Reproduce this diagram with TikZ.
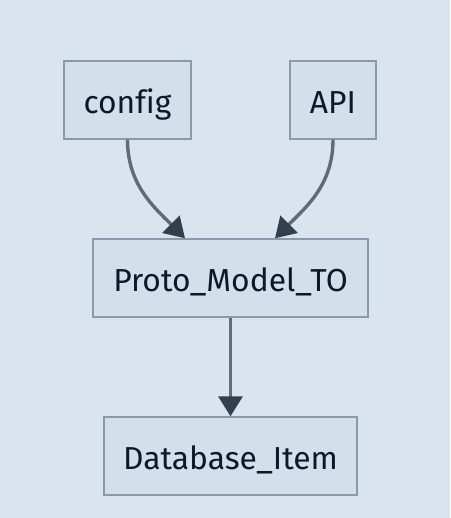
\documentclass[tikz,border=0pt]{standalone}
\usepackage{fontspec}
\setmainfont{Fira Sans}[Ligatures=NoCommon]
\usetikzlibrary{calc,positioning,arrows.meta}
\definecolor{bgc}{HTML}{D9E4EF}
\definecolor{boxfill}{HTML}{D3E0EC}
\definecolor{boxline}{HTML}{8A9AA8}
\definecolor{edgec}{HTML}{5F6B77}
\definecolor{tipc}{HTML}{333F4C}
\definecolor{textc}{HTML}{0B1A2A}
\tikzset{
  entity/.style={draw=boxline, fill=boxfill, line width=1.4pt, minimum height=78pt,
    inner sep=0pt, text height=30pt, text depth=2.6pt, text=textc,
    font=\fontsize{31.8}{36}\selectfont},
  link/.style={draw=edgec, line width=3.4pt,
    -{Triangle[length=20pt,width=24pt,color=tipc]}}
}
\begin{document}
\begin{tikzpicture}[x=1pt,y=-1pt]
    \fill[bgc] (0,0) rectangle (450,518);
    \useasboundingbox (0,0) rectangle (450,518);
    \node[entity, minimum width=127pt] (config) at (127.5,100) {config};
    \node[entity, minimum width=86pt] (api) at (333,100) {API};
    \node[entity, minimum width=275pt] (proto) at (230.5,278) {Proto\_Model\_TO};
    \node[entity, minimum width=253pt] (db) at (230.5,456) {Database\_Item};
    \draw[link] (config.south) to[out=-90,in=135] ($(proto.north)+(-45.5,0)$);
    \draw[link] (api.south) to[out=-90,in=45] ($(proto.north)+(44.5,0)$);
    \draw[link] (proto.south) -- (db.north);
\end{tikzpicture}
\end{document}
